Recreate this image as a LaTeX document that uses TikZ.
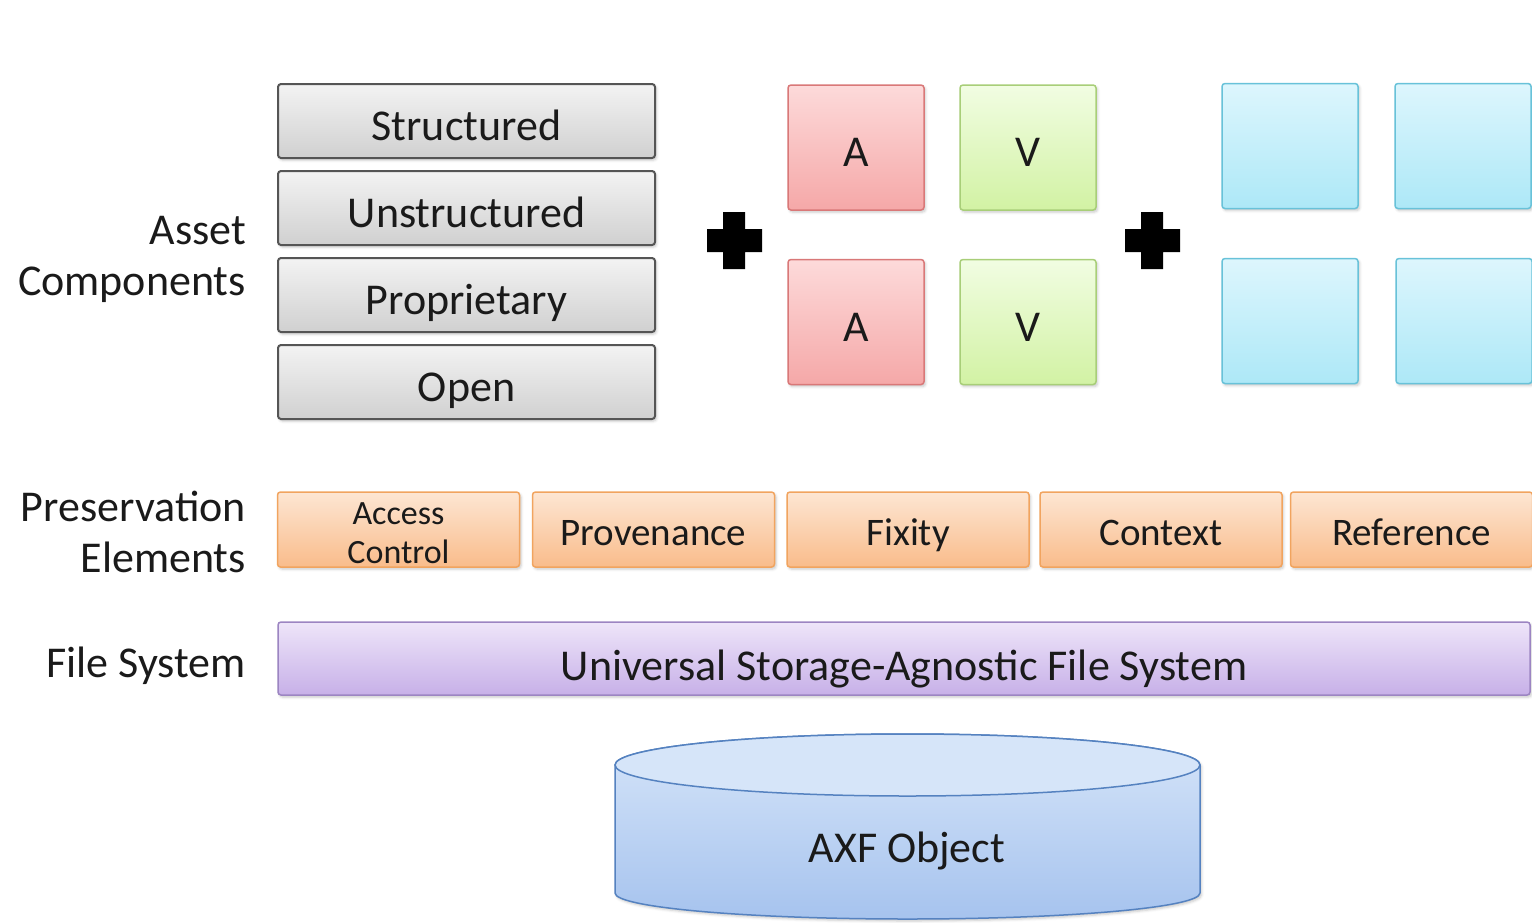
\documentclass[tikz,border=0pt]{standalone}
\usepackage{fontspec}
\setmainfont{Carlito}
\usetikzlibrary{shadows.blur}

% fill and border colours
\definecolor{grayTop}{HTML}{F3F3F3}
\definecolor{grayBot}{HTML}{D0D0D0}
\definecolor{grayLine}{HTML}{555555}
\definecolor{redTop}{HTML}{FDDADA}
\definecolor{redBot}{HTML}{F5A8A8}
\definecolor{redLine}{HTML}{D97878}
\definecolor{grnTop}{HTML}{F1FDE2}
\definecolor{grnBot}{HTML}{D2F2A4}
\definecolor{grnLine}{HTML}{A8CE78}
\definecolor{cyaTop}{HTML}{DDF6FD}
\definecolor{cyaBot}{HTML}{ADE8F7}
\definecolor{cyaLine}{HTML}{68C2D9}
\definecolor{orgTop}{HTML}{FDE6D3}
\definecolor{orgBot}{HTML}{F9BC8B}
\definecolor{orgLine}{HTML}{F1A45F}
\definecolor{purTop}{HTML}{EEE5F9}
\definecolor{purBot}{HTML}{C7B0E8}
\definecolor{purLine}{HTML}{9C85C2}
\definecolor{cylTop}{HTML}{D6E5F9}
\definecolor{cylBot}{HTML}{A6C3EE}
\definecolor{cylLine}{HTML}{5582C0}
\definecolor{txt}{HTML}{1A1A1A}

\tikzset{
  soft/.style={blur shadow={shadow xshift=1.5pt, shadow yshift=-2pt,
      shadow blur radius=2.5pt, shadow opacity=22}},
  tile/.style={rectangle, rounded corners=3pt, soft, text=txt,
      inner sep=0pt, shading=axis, shading angle=0},
  bigtext/.style={font=\fontsize{44}{50}\selectfont, text height=49pt, text depth=11pt},
  graybox/.style={tile, bigtext, top color=grayTop, bottom color=grayBot,
      draw=grayLine, line width=2pt, minimum width=377pt, minimum height=74pt},
  redbox/.style={tile, bigtext, top color=redTop, bottom color=redBot,
      draw=redLine, line width=1.5pt, minimum width=136pt, minimum height=125pt},
  grnbox/.style={tile, bigtext, top color=grnTop, bottom color=grnBot,
      draw=grnLine, line width=1.5pt, minimum width=136pt, minimum height=125pt},
  cyabox/.style={tile, top color=cyaTop, bottom color=cyaBot,
      draw=cyaLine, line width=1.5pt, minimum width=136pt, minimum height=125pt},
  orgbox/.style={tile, top color=orgTop, bottom color=orgBot,
      draw=orgLine, line width=1.5pt, minimum width=242pt, minimum height=75pt,
      font=\fontsize{39}{44}\selectfont, text height=41pt, text depth=10pt},
  purbox/.style={tile, top color=purTop, bottom color=purBot,
      draw=purLine, line width=1.5pt, minimum width=1252pt, minimum height=73pt,
      font=\fontsize{44}{50}\selectfont, text height=54pt, text depth=11pt},
  rowlabel/.style={anchor=east, align=right, text=txt, inner sep=0pt,
      font=\fontsize{44}{51}\selectfont},
  plusmark/.style={fill=black},
}

\begin{document}
\begin{tikzpicture}[x=1pt,y=-1pt]
\useasboundingbox (0,0) rectangle (1532,922);
\clip (0,0) rectangle (1532,922);

% row labels
\node[rowlabel] (lblAsset) at (246,259) {Asset\\Components};
\node[rowlabel] (lblPres) at (246,532) {Preservation\\Elements};
\node[rowlabel] (lblFS) at (246,666) {File System};

% asset component types
\node[graybox] (structured)   at (466.5,121) {Structured};
\node[graybox] (unstructured) at (466.5,208) {Unstructured};
\node[graybox] (proprietary)  at (466.5,295) {Proprietary};
\node[graybox] (open)         at (466.5,382) {Open};

% plus signs
\fill[plusmark] (723,212) -- (745,212) -- (745,229) -- (762,229) -- (762,252)
  -- (745,252) -- (745,269) -- (723,269) -- (723,252) -- (707,252) -- (707,229)
  -- (723,229) -- cycle;
\fill[plusmark] (1141,212) -- (1163,212) -- (1163,229) -- (1180,229) -- (1180,252)
  -- (1163,252) -- (1163,269) -- (1141,269) -- (1141,252) -- (1125,252) -- (1125,229)
  -- (1141,229) -- cycle;

% audio / video essence
\node[redbox] (a1) at (856,147.5) {A};
\node[grnbox] (v1) at (1028,147.5) {V};
\node[redbox] (a2) at (856,322) {A};
\node[grnbox] (v2) at (1028,322) {V};

% further essence tiles
\node[cyabox] (c1) at (1290,146) {};
\node[cyabox] (c2) at (1463,146) {};
\node[cyabox] (c3) at (1290,321) {};
\node[cyabox] (c4) at (1464,321) {};

% preservation elements
\node[orgbox] (access) at (398.5,529.5) {};
\node[font=\fontsize{34}{39}\selectfont, align=center, text=txt, inner sep=0pt]
  (accesstext) at ([yshift=-3.5pt]access.center) {Access\\Control};
\node[orgbox] (prov)    at (653.5,529.5) {Provenance};
\node[orgbox] (fixity)  at (908,529.5)   {Fixity};
\node[orgbox] (context) at (1161,529.5)  {Context};
\node[orgbox] (ref)     at (1411.5,529.5){Reference};

% file system
\node[purbox] (fs) at (904,658.5) {Universal Storage-Agnostic File System};

% AXF object cylinder
\path[soft, top color=cylTop, bottom color=cylBot, shading angle=0, draw=cylLine, line width=1.5pt]
  (615,765) -- (615,893) arc[start angle=180, end angle=360, x radius=292.5pt, y radius=26pt]
  -- (1200,765) arc[start angle=0, end angle=180, x radius=292.5pt, y radius=31pt] -- cycle;
\draw[cylLine, line width=1.5pt, fill=cylTop]
  (907.5,765) ellipse[x radius=292.5pt, y radius=31pt];
\node[text=txt, font=\fontsize{44}{50}\selectfont, inner sep=0pt] (axf) at (907,851) {AXF Object};

\end{tikzpicture}
\end{document}
